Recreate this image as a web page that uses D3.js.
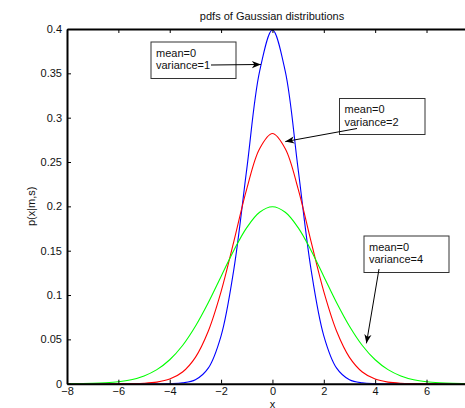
<!DOCTYPE html>
<html>
<head>
<meta charset="utf-8">
<script src="https://cdn.jsdelivr.net/npm/d3@7"></script>
<style>
  body { margin: 0; background: #fff; }
  svg { display: block; font-family: "Liberation Sans", Arial, sans-serif; }
</style>
</head>
<body>
<svg id="chart" width="465" height="408"></svg>
<script>
// x grid the curves are sampled on
var xs = [-8, -7.5, -7, -6.5, -6, -5.5, -5, -4.5, -4, -3.5, -3, -2.5, -2, -1.5, -1, -0.5,
  0, 0.5, 1, 1.5, 2, 2.5, 3, 3.5, 4, 4.5, 5, 5.5, 6, 6.5, 7, 7.5, 8];

// variance = 1 (blue)
var var1 = [0, 0, 0, 0, 0, 0, 0, 0, 0.0001, 0.0009, 0.0044, 0.0175, 0.0540, 0.1295, 0.2420, 0.3521,
  0.3989, 0.3521, 0.2420, 0.1295, 0.0540, 0.0175, 0.0044, 0.0009, 0.0001, 0, 0, 0, 0, 0, 0, 0, 0];
// variance = 2 (red)
var var2 = [0, 0, 0, 0, 0.00003, 0.00015, 0.0005, 0.0018, 0.0052, 0.0132, 0.0297, 0.0591, 0.1038, 0.1607, 0.2197, 0.2650,
  0.2821, 0.2650, 0.2197, 0.1607, 0.1038, 0.0591, 0.0297, 0.0132, 0.0052, 0.0018, 0.0005, 0.00015, 0.00003, 0, 0, 0, 0];
// variance = 4 (green)
var var4 = [0.0001, 0.0002, 0.0004, 0.0010, 0.0022, 0.0045, 0.0088, 0.0159, 0.0270, 0.0431, 0.0648, 0.0913, 0.1210, 0.1506, 0.1760, 0.1933,
  0.1995, 0.1933, 0.1760, 0.1506, 0.1210, 0.0913, 0.0648, 0.0431, 0.0270, 0.0159, 0.0088, 0.0045, 0.0022, 0.0010, 0.0004, 0.0002, 0.0001];

// the frame runs past the window's right edge, so the tick at 8 is not visible
var xTicks = [-8, -6, -4, -2, 0, 2, 4, 6];
var yTicks = [0, 0.05, 0.1, 0.15, 0.2, 0.25, 0.3, 0.35, 0.4];
var yTickLabels = ["0", "0.05", "0.1", "0.15", "0.2", "0.25", "0.3", "0.35", "0.4"];

var svg = d3.select("#chart");
var padL = 67, padT = 29, padB = 383.7, unit = 25.68;

var x = d3.scaleLinear().domain([-8, 8]).range([padL, padL + 16 * unit]);
var y = d3.scaleLinear().domain([0, 0.4]).range([padB, padT]);

svg.append("defs").append("clipPath").attr("id", "plotclip")
  .append("rect").attr("x", padL).attr("y", padT - 2)
  .attr("width", 16 * unit).attr("height", padB - padT + 2);

// curves
var line = d3.line().x((d, i) => x(xs[i])).y(d => y(d)).curve(d3.curveCatmullRom);
var series = [[var1, "#0000ff"], [var2, "#ff0000"], [var4, "#00ff00"]];
svg.append("g").attr("clip-path", "url(#plotclip)")
  .selectAll("path").data(series).enter().append("path")
  .attr("d", d => line(d[0]))
  .attr("fill", "none")
  .attr("stroke", d => d[1])
  .attr("stroke-width", 1.1);

// axes (ticks pointing inward, like MATLAB)
function styleAxis(g) {
  g.selectAll(".domain").attr("stroke", "#000").attr("stroke-width", 2);
  g.selectAll(".tick line").attr("stroke", "#000");
  g.selectAll(".tick text").attr("fill", "#111").style("font-size", "11px");
}
svg.append("g").attr("transform", "translate(0," + padB + ")")
  .call(d3.axisBottom(x).tickValues(xTicks).tickSize(-4).tickPadding(4).tickSizeOuter(0))
  .call(styleAxis);
svg.append("g").attr("transform", "translate(0," + padT + ")")
  .call(d3.axisTop(x).tickValues(xTicks).tickSize(-4).tickFormat("").tickSizeOuter(0))
  .call(styleAxis);
svg.append("g").attr("transform", "translate(" + padL + ",0)")
  .call(d3.axisLeft(y).tickValues(yTicks).tickFormat((d, i) => yTickLabels[i])
    .tickSize(-4).tickPadding(5).tickSizeOuter(0))
  .call(styleAxis);

// title and labels
svg.append("text").attr("x", 272).attr("y", 20).attr("text-anchor", "middle")
  .style("font-size", "11px").attr("fill", "#111").text("pdfs of Gaussian distributions");
svg.append("text").attr("x", x(0)).attr("y", 408).attr("text-anchor", "middle")
  .style("font-size", "11px").attr("fill", "#111").text("x");
svg.append("text").attr("transform", "translate(35," + ((padT + padB) / 2) + ") rotate(-90)")
  .attr("text-anchor", "middle").style("font-size", "11px").attr("fill", "#111").text("p(x|m,s)");

// annotations: boxes in pixels, arrow tips in data units
var notes = [
  { box: [151, 42, 85, 36.5], lines: ["mean=0", "variance=1"], from: [211, 65], tip: [-0.45, 0.36] },
  { box: [339.5, 98.5, 85.5, 36], lines: ["mean=0", "variance=2"], from: [357, 128.5], tip: [0.5, 0.273] },
  { box: [364, 236, 85, 36.5], lines: ["mean=0", "variance=4"], from: [379, 269], tip: [3.66, 0.0455] }
];

svg.append("defs").append("marker").attr("id", "head")
  .attr("viewBox", "-10 -5 11 10").attr("refX", 0).attr("refY", 0)
  .attr("markerWidth", 11).attr("markerHeight", 10).attr("markerUnits", "userSpaceOnUse")
  .attr("orient", "auto")
  .append("path").attr("d", "M0,0 L-9,-3.6 L-6.5,0 L-9,3.6 Z").attr("fill", "#000");

var ng = svg.append("g").selectAll("g").data(notes).enter().append("g");
ng.append("rect")
  .attr("x", d => d.box[0]).attr("y", d => d.box[1])
  .attr("width", d => d.box[2]).attr("height", d => d.box[3])
  .attr("fill", "#fff").attr("stroke", "#333").attr("stroke-width", 1);
ng.each(function(d) {
  var g = d3.select(this);
  d.lines.forEach(function(t, i) {
    g.append("text").attr("x", d.box[0] + 5).attr("y", d.box[1] + 14.5 + i * 12.8)
      .style("font-size", "11px").attr("fill", "#111").text(t);
  });
});
ng.append("line")
  .attr("x1", d => d.from[0]).attr("y1", d => d.from[1])
  .attr("x2", d => x(d.tip[0])).attr("y2", d => y(d.tip[1]))
  .attr("stroke", "#000").attr("stroke-width", 1)
  .attr("marker-end", "url(#head)");
</script>
</body>
</html>
